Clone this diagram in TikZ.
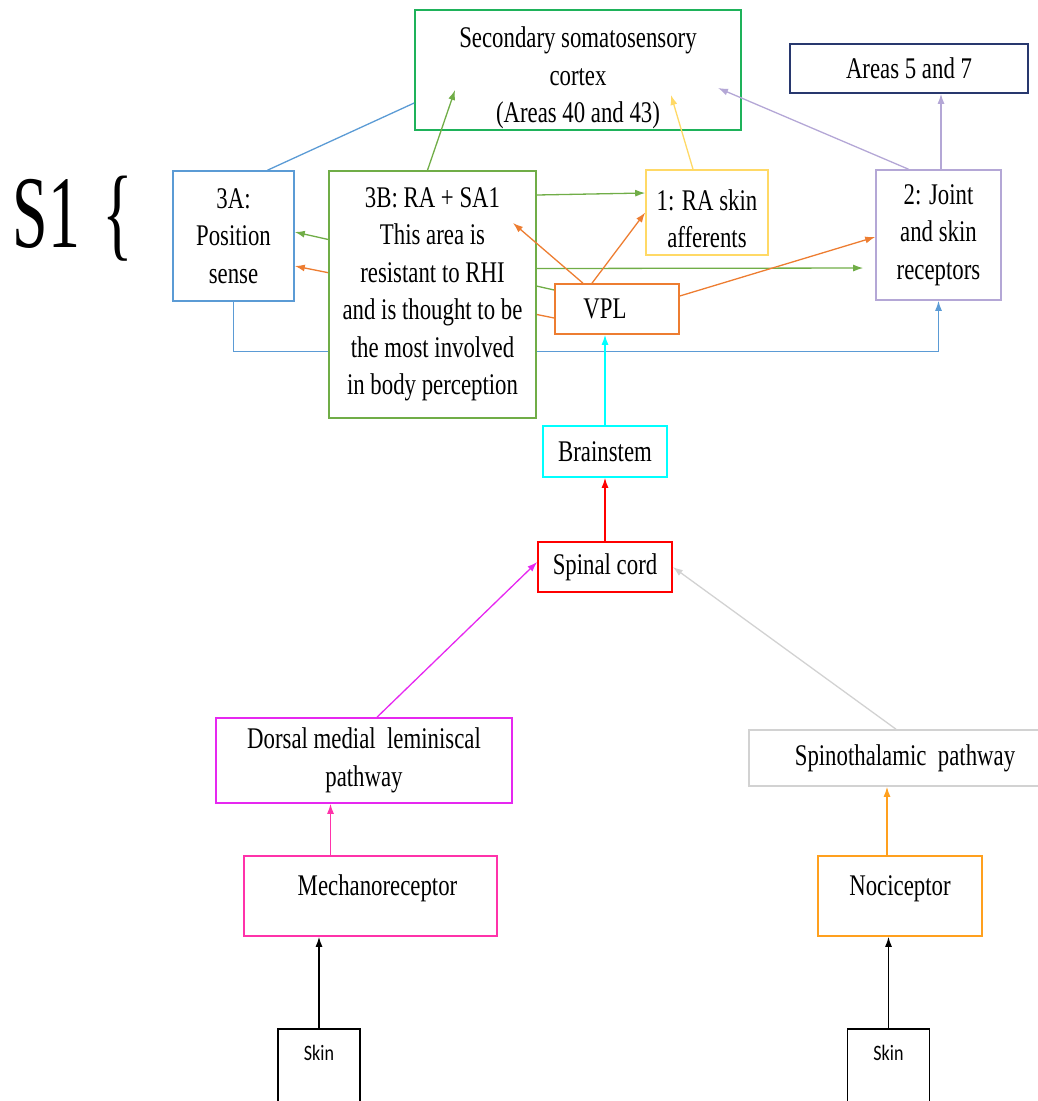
\documentclass[tikz,border=0pt]{standalone}
\usepackage{fontspec}
\setmainfont[FakeStretch=0.76]{Liberation Serif}
\newfontfamily\bigfont[FakeStretch=0.62]{Liberation Serif}
\newfontfamily\skinfont[FakeStretch=0.82]{Carlito}
\usetikzlibrary{arrows.meta,backgrounds}

\definecolor{secgreen}{RGB}{30,178,90}
\definecolor{navyA}{RGB}{40,56,110}
\definecolor{blue3a}{RGB}{91,155,213}
\definecolor{green3b}{RGB}{112,173,71}
\definecolor{yellow1}{RGB}{255,217,102}
\definecolor{lav2}{RGB}{180,167,214}
\definecolor{vplorange}{RGB}{237,125,49}
\definecolor{cyanB}{RGB}{0,255,255}
\definecolor{redS}{RGB}{255,0,0}
\definecolor{dmlmag}{RGB}{230,40,240}
\definecolor{sptgray}{RGB}{210,210,210}
\definecolor{mechpink}{RGB}{255,51,170}
\definecolor{nociorange}{RGB}{255,160,30}

\begin{document}
\begin{tikzpicture}[x=1pt,y=-1pt,
  box/.style={draw,fill=white,line width=1.6pt,align=center,inner sep=0pt,font=\fontsize{30}{37.5}\selectfont},
  tip/.style={-{Latex[length=10pt,width=7pt]},line width=1.3pt},
  plain/.style={-,line width=1.3pt}]
  \useasboundingbox (0,0) rectangle (1038,1101);

  \node[inner sep=0pt,font=\bigfont\fontsize{103}{110}\selectfont] (s1) at (73,219) {S1\hspace{22pt}\{};

  \node[box,draw=secgreen,minimum width=326pt,minimum height=120pt] (sec) at (578,70) {\rule{0pt}{37pt}Secondary somatosensory\\cortex\\(Areas 40 and 43)};
  \node[box,draw=navyA,minimum width=238pt,minimum height=49pt] (a57) at (909,68.5) {Areas 5 and 7};
  \node[box,draw=blue3a,minimum width=121pt,minimum height=130pt] (a3) at (233.5,236) {3A:\\Position\\sense};
  \node[box,draw=green3b,minimum width=207pt,minimum height=247pt] (b3) at (432.5,294.5) {3B: RA + SA1\\This area is\\resistant to RHI\\and is thought to be\\the most involved\\in body perception};
  \node[box,draw=yellow1,minimum width=122pt,minimum height=85pt] (r1) at (707,212.5) {\rule{0pt}{33pt}1: RA skin\\afferents};
  \node[box,draw=lav2,minimum width=125pt,minimum height=130pt] (j2) at (938.5,235) {2: Joint\\and skin\\receptors};
  \node[box,draw=vplorange,minimum width=124pt,minimum height=50pt] (vpl) at (617,309) {VPL\hspace{24pt}};
  \node[box,draw=cyanB,minimum width=124pt,minimum height=51pt] (brain) at (605,451.5) {Brainstem};
  \node[box,draw=redS,minimum width=134pt,minimum height=50pt] (spinal) at (605,567) {Spinal cord};
  \node[box,draw=dmlmag,minimum width=296pt,minimum height=85pt] (dml) at (364,760.5) {Dorsal medial\ \ leminiscal\\pathway};
  \node[box,draw=sptgray,minimum width=296pt,minimum height=56pt] (spt) at (897,758) {\hspace{16pt}Spinothalamic\ \ pathway};
  \node[box,draw=mechpink,minimum width=253pt,text height=39pt,text depth=41pt] (mech) at (370.5,896) {\hspace{14pt}Mechanoreceptor};
  \node[box,draw=nociorange,minimum width=164pt,text height=39pt,text depth=41pt] (noci) at (900,896) {Nociceptor};
  \node[box,draw=black,line width=1.3pt,minimum width=82pt,text height=31pt,text depth=60pt,font=\skinfont\fontsize{22}{26}\selectfont] (skin1) at (319,1074.5) {Skin};
  \node[box,draw=black,line width=1.3pt,minimum width=82pt,text height=31pt,text depth=60pt,font=\skinfont\fontsize{22}{26}\selectfont] (skin2) at (888.5,1074.5) {Skin};

  \coordinate (secA) at (455,90);
  \coordinate (secB) at (671,95);
  \coordinate (secC) at (718,88);
  \coordinate (b3in) at (513,223);

  % lines that run behind 3B
  \begin{scope}[on background layer]
    \draw[tip,blue3a] (a3.south) -- ++(0,50) -| (j2.south);
    \path
     ([yshift=19pt]vpl.west) edge[tip,green3b] ([yshift=4pt]a3.east)
     ([yshift=-9pt]vpl.west) edge[tip,vplorange] ([yshift=-30pt]a3.east);
  \end{scope}

  \path
   ([xshift=34pt]a3.north) edge[plain,blue3a] ([yshift=-33pt]sec.west)
   ([xshift=-5pt]b3.north) edge[tip,green3b] (secA)
   ([xshift=-14pt]r1.north) edge[tip,yellow1] (secB)
   ([xshift=-30pt]j2.north) edge[tip,lav2] (secC)
   ([xshift=2.5pt]j2.north) edge[tip,lav2] ([xshift=32pt]a57.south)
   ([yshift=99.5pt]b3.east) edge[tip,green3b] ([yshift=19.5pt]r1.west)
   ([yshift=26pt]b3.east) edge[tip,green3b,shorten >=12pt] ([yshift=-33pt]j2.west)
   ([xshift=-34pt]vpl.north) edge[tip,vplorange] (b3in)
   ([xshift=-25pt]vpl.north) edge[tip,vplorange] (r1.west)
   ([yshift=13pt]vpl.east) edge[tip,vplorange] ([yshift=-2pt]j2.west)
   (brain.north) edge[tip,cyanB] (brain.north |- vpl.south)
   (spinal.north) edge[tip,redS] (brain.south)
   ([xshift=13pt]dml.north) edge[tip,dmlmag] ([yshift=5pt]spinal.west)
   ([xshift=-1pt]spt.north) edge[tip,sptgray] (spinal.east)
   ([xshift=-40pt]mech.north) edge[tip,mechpink] ([xshift=-40pt]mech.north |- dml.south)
   (skin1.north) edge[tip,black] (skin1.north |- mech.south)
   ([xshift=-13pt]noci.north) edge[tip,nociorange] ([xshift=-13pt]noci.north |- spt.south)
   (skin2.north) edge[tip,black] (skin2.north |- noci.south);
\end{tikzpicture}
\end{document}
